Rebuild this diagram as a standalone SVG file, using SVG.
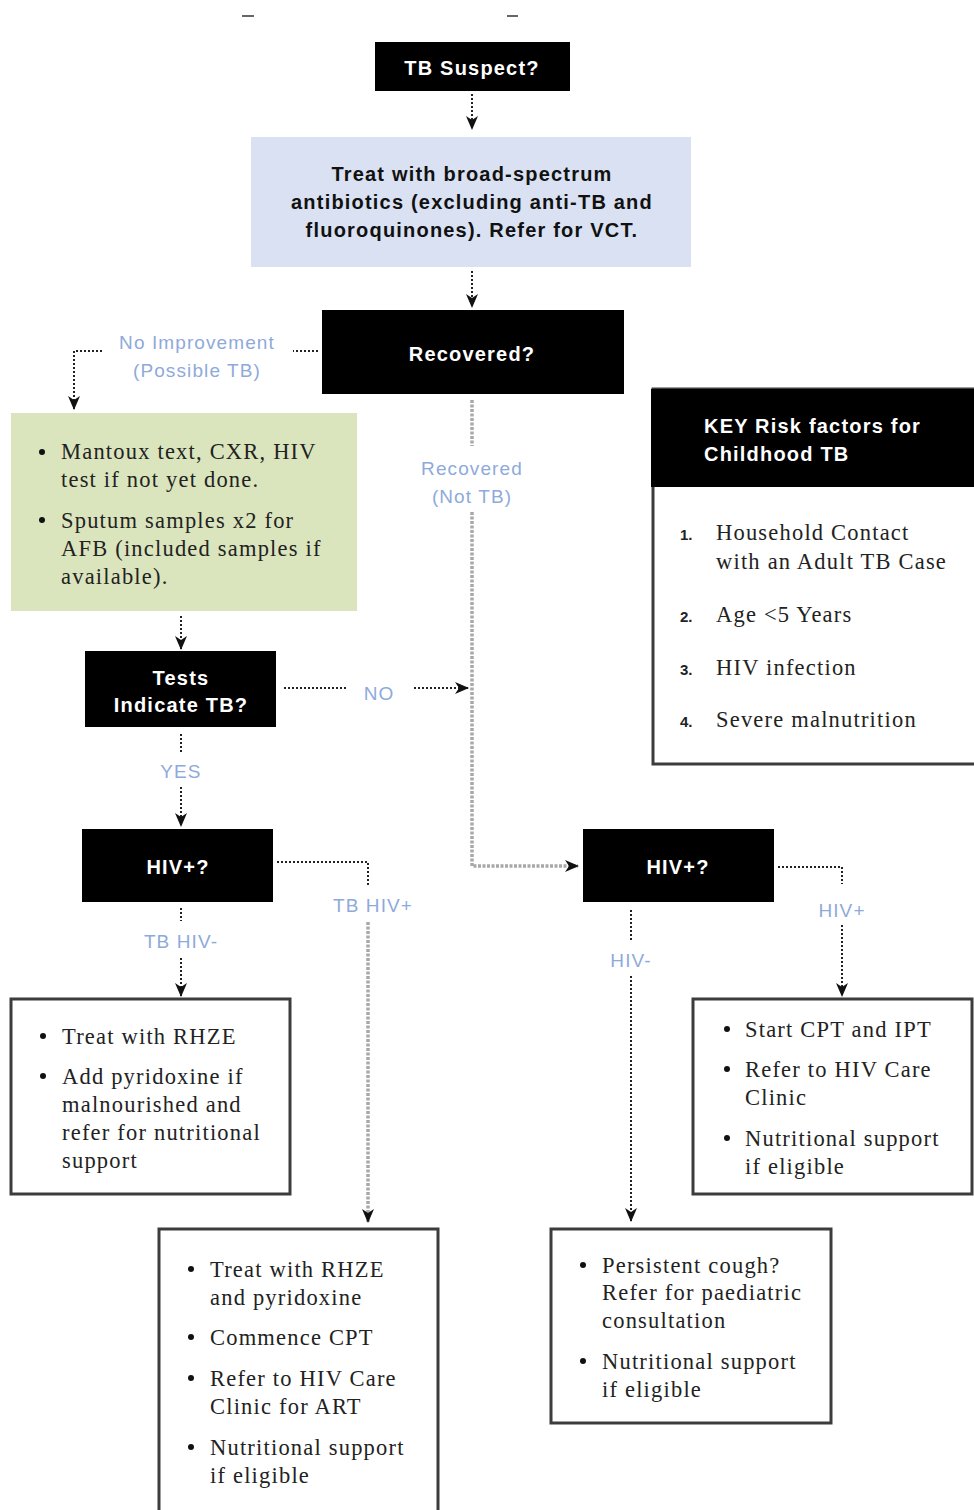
<svg xmlns="http://www.w3.org/2000/svg" width="974" height="1510" viewBox="0 0 974 1510">
<style>
.blk{fill:#000}
.hd{font-family:"Liberation Sans",Arial,sans-serif;font-weight:bold;font-size:20px;fill:#fff;letter-spacing:1.2px;text-anchor:middle}
.bt{font-family:"Liberation Sans",Arial,sans-serif;font-weight:bold;font-size:20px;fill:#111;letter-spacing:1.2px;text-anchor:middle}
.sf{font-family:"Liberation Serif","Times New Roman",serif;font-size:22.5px;fill:#222;letter-spacing:1.2px}
.lb{font-family:"Liberation Sans",Arial,sans-serif;font-size:19px;fill:#8eaadb;letter-spacing:1.1px;text-anchor:middle}
.num{font-family:"Liberation Sans",Arial,sans-serif;font-weight:bold;font-size:15px;fill:#222}
.box{fill:#fff;stroke:#3c3c3c;stroke-width:3}
.dot{fill:none;stroke:#222;stroke-width:2;stroke-dasharray:2 2}
.gry{fill:none;stroke:#a8a8a8;stroke-width:3.5;stroke-dasharray:3 1.5}
</style>
<defs>
<marker id="ah" viewBox="0 0 14 14" refX="13" refY="7" markerWidth="14" markerHeight="14" orient="auto" markerUnits="userSpaceOnUse">
<path d="M0,1 L14,7 L0,13 L4,7 Z" fill="#111"/>
</marker>
</defs>
<rect width="974" height="1510" fill="#fff"/>
<line x1="242" y1="16" x2="254" y2="16" stroke="#666" stroke-width="2"/>
<line x1="507" y1="16" x2="518" y2="16" stroke="#666" stroke-width="2"/>

<g id="connectors">
<path class="dot" d="M472 94 V129" marker-end="url(#ah)"/>
<path class="dot" d="M472 271 V307" marker-end="url(#ah)"/>
<path class="dot" d="M318 351 H293 M102 351 H74 V409" marker-end="url(#ah)"/>
<path class="gry" d="M472 400 V446 M472 512 V866 H578" marker-end="url(#ah)"/>
<path class="dot" d="M181 616 V649" marker-end="url(#ah)"/>
<path class="dot" d="M284 688 H346 M414 688 H468" marker-end="url(#ah)"/>
<path class="dot" d="M181 734 V752 M181 787 V826" marker-end="url(#ah)"/>
<path class="dot" d="M181 908 V921 M181 958 V996" marker-end="url(#ah)"/>
<path class="dot" d="M277 862 H368 V886"/>
<path class="gry" d="M368 922 V1222" marker-end="url(#ah)"/>
<path class="dot" d="M778 867 H842 V884 M842 925 V996" marker-end="url(#ah)"/>
<path class="dot" d="M631 910 V942 M631 976 V1221" marker-end="url(#ah)"/>
<text class="lb" x="197" y="349">No Improvement</text>
<text class="lb" x="197" y="377">(Possible TB)</text>
<text class="lb" x="472" y="475">Recovered</text>
<text class="lb" x="472" y="503">(Not TB)</text>
<text class="lb" x="379" y="700">NO</text>
<text class="lb" x="181" y="778">YES</text>
<text class="lb" x="181" y="948">TB HIV-</text>
<text class="lb" x="373" y="912">TB HIV+</text>
<text class="lb" x="842" y="917">HIV+</text>
<text class="lb" x="631" y="967">HIV-</text>
</g>

<g id="tb-suspect">
<rect class="blk" x="375" y="42" width="195" height="49"/>
<text class="hd" x="472" y="75">TB Suspect?</text>
</g>

<g id="antibiotics">
<rect x="251" y="137" width="440" height="130" fill="#d9e1f2"/>
<text class="bt" x="472" y="181">Treat with broad-spectrum</text>
<text class="bt" x="472" y="209">antibiotics (excluding anti-TB and</text>
<text class="bt" x="472" y="237">fluoroquinones). Refer for VCT.</text>
</g>

<g id="recovered">
<rect class="blk" x="322" y="310" width="302" height="84"/>
<text class="hd" x="472" y="361">Recovered?</text>
</g>

<g id="tests">
<rect x="11" y="413" width="346" height="198" fill="#dbe5bd"/>
<circle cx="42" cy="452" r="3" fill="#111"/>
<text class="sf" x="61" y="459">Mantoux text, CXR, HIV</text>
<text class="sf" x="61" y="487">test if not yet done.</text>
<circle cx="42" cy="520" r="3" fill="#111"/>
<text class="sf" x="61" y="528">Sputum samples x2 for</text>
<text class="sf" x="61" y="556">AFB (included samples if</text>
<text class="sf" x="61" y="584">available).</text>
</g>

<g id="tests-indicate">
<rect class="blk" x="85" y="651" width="191" height="76"/>
<text class="hd" x="181" y="685">Tests</text>
<text class="hd" x="181" y="712">Indicate TB?</text>
</g>

<g id="key">
<rect class="box" x="653" y="389" width="330" height="375"/>
<rect class="blk" x="651" y="389" width="323" height="98"/>
<text class="hd" x="704" y="433" style="text-anchor:start">KEY Risk factors for</text>
<text class="hd" x="704" y="461" style="text-anchor:start">Childhood TB</text>
<text class="num" x="680" y="540">1.</text>
<text class="sf" x="716" y="540">Household Contact</text>
<text class="sf" x="716" y="569">with an Adult TB Case</text>
<text class="num" x="680" y="622">2.</text>
<text class="sf" x="716" y="622">Age &lt;5 Years</text>
<text class="num" x="680" y="675">3.</text>
<text class="sf" x="716" y="675">HIV infection</text>
<text class="num" x="680" y="727">4.</text>
<text class="sf" x="716" y="727">Severe malnutrition</text>
</g>

<g id="hiv-left">
<rect class="blk" x="82" y="829" width="191" height="73"/>
<text class="hd" x="178" y="874">HIV+?</text>
</g>

<g id="hiv-right">
<rect class="blk" x="583" y="829" width="191" height="73"/>
<text class="hd" x="678" y="874">HIV+?</text>
</g>

<g id="tb-hiv-neg">
<rect class="box" x="11" y="999" width="279" height="195"/>
<circle cx="43" cy="1036" r="3" fill="#111"/>
<text class="sf" x="62" y="1044">Treat with RHZE</text>
<circle cx="43" cy="1076" r="3" fill="#111"/>
<text class="sf" x="62" y="1084">Add pyridoxine if</text>
<text class="sf" x="62" y="1112">malnourished and</text>
<text class="sf" x="62" y="1140">refer for nutritional</text>
<text class="sf" x="62" y="1168">support</text>
</g>

<g id="hiv-pos">
<rect class="box" x="693" y="999" width="279" height="195"/>
<circle cx="727" cy="1029" r="3" fill="#111"/>
<text class="sf" x="745" y="1037">Start CPT and IPT</text>
<circle cx="727" cy="1069" r="3" fill="#111"/>
<text class="sf" x="745" y="1077">Refer to HIV Care</text>
<text class="sf" x="745" y="1105">Clinic</text>
<circle cx="727" cy="1138" r="3" fill="#111"/>
<text class="sf" x="745" y="1146">Nutritional support</text>
<text class="sf" x="745" y="1174">if eligible</text>
</g>

<g id="tb-hiv-pos">
<rect class="box" x="159" y="1229" width="279" height="300"/>
<circle cx="191" cy="1269" r="3" fill="#111"/>
<text class="sf" x="210" y="1277">Treat with RHZE</text>
<text class="sf" x="210" y="1305">and pyridoxine</text>
<circle cx="191" cy="1337" r="3" fill="#111"/>
<text class="sf" x="210" y="1345">Commence CPT</text>
<circle cx="191" cy="1378" r="3" fill="#111"/>
<text class="sf" x="210" y="1386">Refer to HIV Care</text>
<text class="sf" x="210" y="1414">Clinic for ART</text>
<circle cx="191" cy="1447" r="3" fill="#111"/>
<text class="sf" x="210" y="1455">Nutritional support</text>
<text class="sf" x="210" y="1483">if eligible</text>
</g>

<g id="hiv-neg">
<rect class="box" x="551" y="1229" width="280" height="194"/>
<circle cx="583" cy="1265" r="3" fill="#111"/>
<text class="sf" x="602" y="1273">Persistent cough?</text>
<text class="sf" x="602" y="1300">Refer for paediatric</text>
<text class="sf" x="602" y="1328">consultation</text>
<circle cx="583" cy="1361" r="3" fill="#111"/>
<text class="sf" x="602" y="1369">Nutritional support</text>
<text class="sf" x="602" y="1397">if eligible</text>
</g>
</svg>
